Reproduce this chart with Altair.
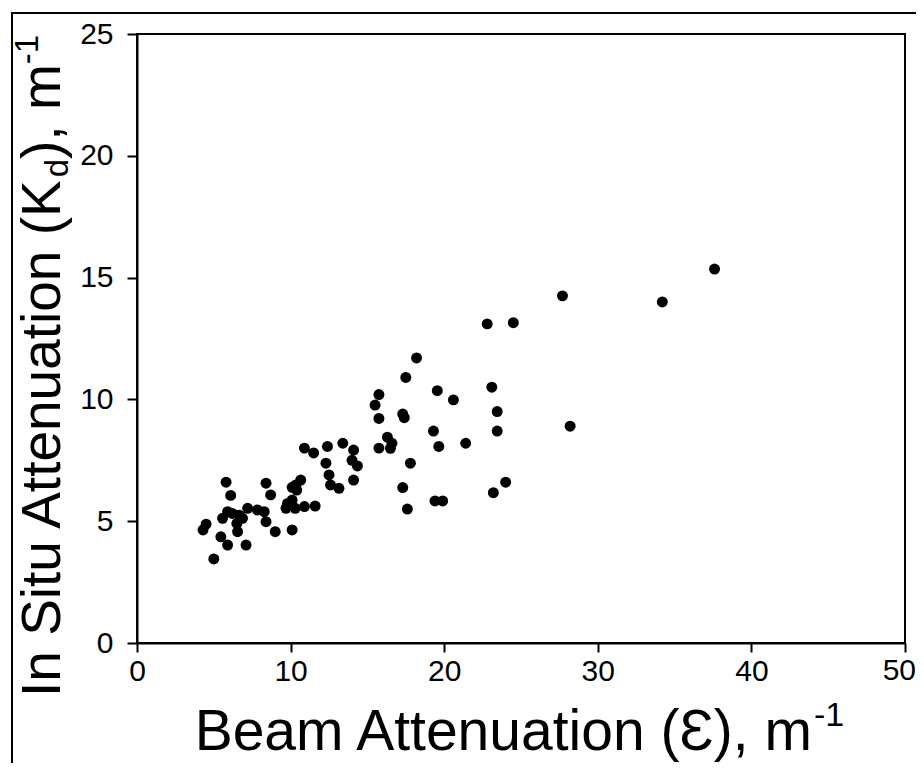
import altair as alt
import pandas as pd

# Beam attenuation (x) and in situ attenuation Kd (y)
beam = [4.3, 4.5, 5.0, 5.46, 5.9, 5.57, 5.9, 6.2, 6.65, 6.87, 6.5, 6.55, 7.2, 7.84,
        8.28, 8.4, 7.1, 5.8, 6.1, 8.4, 8.7, 9.0, 10.1, 9.7, 9.8, 10.1, 10.3, 10.9,
        11.6, 10.1, 10.34, 10.4, 10.66, 10.9, 11.5, 12.4, 13.4, 14.1, 14.0, 14.35,
        14.1, 12.3, 12.5, 12.6, 13.15,
        15.5, 15.75, 15.75, 17.3, 17.4, 17.5, 18.2, 19.55, 20.6, 23.1, 23.45, 23.45,
        28.2, 19.3, 19.65, 21.4, 16.3, 16.6, 15.75, 16.5, 17.8, 17.3, 17.6, 19.4,
        19.9, 23.2, 24.0,
        22.8, 24.5, 27.7, 34.2, 37.6]
kd = [4.64, 4.88, 3.45, 4.36, 4.02, 5.12, 5.39, 5.32, 5.25, 5.12, 4.91, 4.57, 5.53, 5.46,
      5.39, 4.98, 4.02, 6.6, 6.06, 6.56, 6.08, 4.57, 4.64, 5.53, 5.73, 5.87, 5.53, 5.6,
      5.62, 6.39, 6.49, 6.28, 6.69, 8.0, 7.8, 8.07, 8.2, 7.92, 7.5, 7.27,
      6.69, 7.38, 6.9, 6.49, 6.35,
      9.77, 10.2, 9.22, 9.4, 9.25, 10.9, 11.7, 10.36, 9.98, 10.5, 9.5, 8.7,
      8.9, 8.7, 8.07, 8.2, 8.45, 8.2, 8.0, 7.99, 7.38, 6.38, 5.5, 5.83,
      5.83, 6.17, 6.6,
      13.1, 13.15, 14.25, 14.0, 15.35]

x_ticks = [0, 10, 20, 30, 40, 50]
y_ticks = [0, 5, 10, 15, 20, 25]

x_title_main = "Beam Attenuation (\u0190), m"
y_title_main = "In Situ Attenuation (K"
y_title_sub = "d"
y_title_rest = "), m"
sup = "-1"

df = pd.DataFrame({"beam": beam, "kd": kd})
one = pd.DataFrame({"a": [0]})

W, H = 768, 609
FONT = "Liberation Sans"
XTS, XLP, XLF = 9, 4, 30
last_x = x_ticks[-1]

points = alt.Chart(df).mark_circle(size=120, color="black", opacity=1).encode(
    x=alt.X("beam:Q",
            scale=alt.Scale(domain=[0, 50], nice=False, zero=False),
            axis=alt.Axis(values=x_ticks, title=None, grid=False, domainColor="black",
                          domainWidth=2, tickColor="black", tickWidth=2, tickSize=XTS,
                          labelFont=FONT, labelFontSize=XLF, labelColor="black",
                          labelPadding=XLP, labelFlush=False, labelOverlap=False,
                          labelExpr=f"datum.value == {last_x} ? '' : datum.label")),
    y=alt.Y("kd:Q",
            scale=alt.Scale(domain=[0, 25], nice=False),
            axis=alt.Axis(values=y_ticks, title=None, grid=False, domainColor="black",
                          domainWidth=2, tickColor="black", tickWidth=2, tickSize=10,
                          labelFont=FONT, labelFontSize=30, labelColor="black",
                          labelPadding=14, labelFlush=False, labelOverlap=False)),
)

frame = alt.Chart(one).mark_rect(fill="transparent", stroke="black", strokeWidth=2).encode(
    x=alt.value(-125), x2=alt.value(820), y=alt.value(-21), y2=alt.value(745))


def txt(text, x, y, size, angle=0, align="left", baseline="alphabetic"):
    return alt.Chart(one).mark_text(text=text, font=FONT, fontSize=size, angle=angle,
                                    align=align, baseline=baseline, color="black").encode(
        x=alt.value(x), y=alt.value(y))


# last x tick label, kept inside the page edge
x_last = txt(str(last_x), W + 11, H + XTS + XLP, XLF, align="right", baseline="top")

FX = 57
FY = 55
SUB = 33
# x title
x_end = 675
xt = txt(x_title_main, x_end, 716, FX, align="right")
xs = txt(sup, x_end + 2, 692, 34)
# y title (rotated)
y0 = 663
yb = -77
ya = txt(y_title_main, yb, y0, FY, angle=270)
y_sub_start = y0 - 9.45 * FY
yd = txt(y_title_sub, yb + 8, y_sub_start, SUB, angle=270)
y_rest_start = y_sub_start - 0.556 * SUB
yr = txt(y_title_rest, yb, y_rest_start, FY, angle=270)
y_sup_start = y_rest_start - 1.722 * FY
ys = txt(sup, yb - 22, y_sup_start, SUB, angle=270)

chart = alt.layer(frame, points, x_last, xt, xs, ya, yd, yr, ys).properties(
    width=W, height=H,
    padding={"left": 129, "top": 26, "right": 11, "bottom": 120},
    autosize=alt.AutoSizeParams(type="none"),
).configure_view(stroke="black", strokeWidth=2)

chart.save("out.html", embed_options={"renderer": "svg", "actions": False})
